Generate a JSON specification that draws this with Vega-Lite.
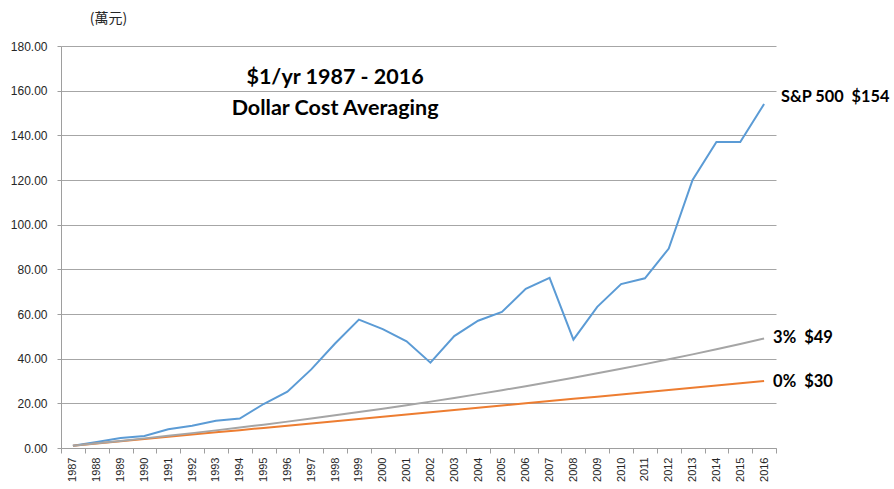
{
  "$schema": "https://vega.github.io/schema/vega-lite/v6.json",
  "width": 715,
  "height": 402,
  "autosize": {"type": "none"},
  "padding": {"left": 61, "top": 46, "right": 118, "bottom": 41},
  "background": "white",
  "config": {"view": {"stroke": null}, "font": "Liberation Sans"},
  "datasets": {
    "series": [
      {"year": "1987", "series": "S&P 500", "value": 1.0},
      {"year": "1988", "series": "S&P 500", "value": 2.7},
      {"year": "1989", "series": "S&P 500", "value": 4.5},
      {"year": "1990", "series": "S&P 500", "value": 5.4},
      {"year": "1991", "series": "S&P 500", "value": 8.4},
      {"year": "1992", "series": "S&P 500", "value": 10.0},
      {"year": "1993", "series": "S&P 500", "value": 12.2},
      {"year": "1994", "series": "S&P 500", "value": 13.2},
      {"year": "1995", "series": "S&P 500", "value": 19.7},
      {"year": "1996", "series": "S&P 500", "value": 25.2},
      {"year": "1997", "series": "S&P 500", "value": 35.2},
      {"year": "1998", "series": "S&P 500", "value": 46.8},
      {"year": "1999", "series": "S&P 500", "value": 57.5},
      {"year": "2000", "series": "S&P 500", "value": 53.2},
      {"year": "2001", "series": "S&P 500", "value": 47.8},
      {"year": "2002", "series": "S&P 500", "value": 38.2},
      {"year": "2003", "series": "S&P 500", "value": 50.1},
      {"year": "2004", "series": "S&P 500", "value": 57.0},
      {"year": "2005", "series": "S&P 500", "value": 60.9},
      {"year": "2006", "series": "S&P 500", "value": 71.3},
      {"year": "2007", "series": "S&P 500", "value": 76.2},
      {"year": "2008", "series": "S&P 500", "value": 48.5},
      {"year": "2009", "series": "S&P 500", "value": 63.2},
      {"year": "2010", "series": "S&P 500", "value": 73.4},
      {"year": "2011", "series": "S&P 500", "value": 76.0},
      {"year": "2012", "series": "S&P 500", "value": 89.3},
      {"year": "2013", "series": "S&P 500", "value": 120.0},
      {"year": "2014", "series": "S&P 500", "value": 137.0},
      {"year": "2015", "series": "S&P 500", "value": 137.0},
      {"year": "2016", "series": "S&P 500", "value": 154.0},
      {"year": "1987", "series": "0%", "value": 1},
      {"year": "1988", "series": "0%", "value": 2},
      {"year": "1989", "series": "0%", "value": 3},
      {"year": "1990", "series": "0%", "value": 4},
      {"year": "1991", "series": "0%", "value": 5},
      {"year": "1992", "series": "0%", "value": 6},
      {"year": "1993", "series": "0%", "value": 7},
      {"year": "1994", "series": "0%", "value": 8},
      {"year": "1995", "series": "0%", "value": 9},
      {"year": "1996", "series": "0%", "value": 10},
      {"year": "1997", "series": "0%", "value": 11},
      {"year": "1998", "series": "0%", "value": 12},
      {"year": "1999", "series": "0%", "value": 13},
      {"year": "2000", "series": "0%", "value": 14},
      {"year": "2001", "series": "0%", "value": 15},
      {"year": "2002", "series": "0%", "value": 16},
      {"year": "2003", "series": "0%", "value": 17},
      {"year": "2004", "series": "0%", "value": 18},
      {"year": "2005", "series": "0%", "value": 19},
      {"year": "2006", "series": "0%", "value": 20},
      {"year": "2007", "series": "0%", "value": 21},
      {"year": "2008", "series": "0%", "value": 22},
      {"year": "2009", "series": "0%", "value": 23},
      {"year": "2010", "series": "0%", "value": 24},
      {"year": "2011", "series": "0%", "value": 25},
      {"year": "2012", "series": "0%", "value": 26},
      {"year": "2013", "series": "0%", "value": 27},
      {"year": "2014", "series": "0%", "value": 28},
      {"year": "2015", "series": "0%", "value": 29},
      {"year": "2016", "series": "0%", "value": 30},
      {"year": "1987", "series": "3%", "value": 1.03},
      {"year": "1988", "series": "3%", "value": 2.09},
      {"year": "1989", "series": "3%", "value": 3.18},
      {"year": "1990", "series": "3%", "value": 4.31},
      {"year": "1991", "series": "3%", "value": 5.47},
      {"year": "1992", "series": "3%", "value": 6.66},
      {"year": "1993", "series": "3%", "value": 7.89},
      {"year": "1994", "series": "3%", "value": 9.16},
      {"year": "1995", "series": "3%", "value": 10.46},
      {"year": "1996", "series": "3%", "value": 11.81},
      {"year": "1997", "series": "3%", "value": 13.19},
      {"year": "1998", "series": "3%", "value": 14.62},
      {"year": "1999", "series": "3%", "value": 16.09},
      {"year": "2000", "series": "3%", "value": 17.60},
      {"year": "2001", "series": "3%", "value": 19.16},
      {"year": "2002", "series": "3%", "value": 20.76},
      {"year": "2003", "series": "3%", "value": 22.41},
      {"year": "2004", "series": "3%", "value": 24.12},
      {"year": "2005", "series": "3%", "value": 25.87},
      {"year": "2006", "series": "3%", "value": 27.68},
      {"year": "2007", "series": "3%", "value": 29.54},
      {"year": "2008", "series": "3%", "value": 31.45},
      {"year": "2009", "series": "3%", "value": 33.43},
      {"year": "2010", "series": "3%", "value": 35.46},
      {"year": "2011", "series": "3%", "value": 37.55},
      {"year": "2012", "series": "3%", "value": 39.71},
      {"year": "2013", "series": "3%", "value": 41.93},
      {"year": "2014", "series": "3%", "value": 44.22},
      {"year": "2015", "series": "3%", "value": 46.58},
      {"year": "2016", "series": "3%", "value": 49.00}
    ],
    "spLabel": [
      {"year": "2016", "value": 157.2, "label": "S&P 500\u00a0 $154"}
    ],
    "rateLabels": [
      {"year": "2016", "value": 49.3, "label": "3%\u00a0 $49"},
      {"year": "2016", "value": 29.6, "label": "0%\u00a0 $30"}
    ],
    "titleLines": [
      {"year": "1998", "value": 165.5, "label": "$1/yr 1987 - 2016"},
      {"year": "1998", "value": 152.0, "label": "Dollar Cost Averaging"}
    ]
  },
  "encoding": {
    "x": {
      "field": "year",
      "type": "ordinal",
      "scale": {"type": "band", "paddingInner": 0, "paddingOuter": 0},
      "axis": {
        "title": null,
        "labelAngle": -90,
        "labelAlign": "right",
        "labelBaseline": "middle",
        "labelFontSize": 11,
        "labelColor": "#262626",
        "labelPadding": 4,
        "tickBand": "extent",
        "tickSize": 5,
        "tickColor": "#9E9E9E",
        "domainColor": "#9E9E9E",
        "grid": false
      }
    },
    "y": {
      "field": "value",
      "type": "quantitative",
      "scale": {"domain": [0, 180], "nice": false, "zero": true},
      "axis": {
        "title": "(萬元)",
        "titleAngle": 0,
        "titleX": 47,
        "titleY": -28,
        "titleAlign": "center",
        "titleBaseline": "middle",
        "titleFont": "Noto Sans CJK TC",
        "titleFontWeight": "normal",
        "titleFontSize": 14,
        "titleColor": "#262626",
        "values": [0, 20, 40, 60, 80, 100, 120, 140, 160, 180],
        "format": ".2f",
        "labelFontSize": 12,
        "labelColor": "#262626",
        "labelPadding": 10,
        "tickSize": 4,
        "tickColor": "#9E9E9E",
        "domainColor": "#9E9E9E",
        "grid": true,
        "gridColor": "#A6A6A6",
        "gridWidth": 1
      }
    }
  },
  "layer": [
    {
      "data": {"name": "series"},
      "mark": {"type": "line", "strokeWidth": 2},
      "encoding": {
        "color": {
          "field": "series",
          "type": "nominal",
          "scale": {"domain": ["S&P 500", "0%", "3%"], "range": ["#5B9BD5", "#ED7D31", "#A5A5A5"]},
          "legend": null
        }
      }
    },
    {
      "data": {"name": "spLabel"},
      "mark": {"type": "text", "align": "left", "baseline": "middle", "dx": 17, "font": "Lato", "fontWeight": "bold", "fontSize": 16.3, "color": "#000000"},
      "encoding": {
        "text": {"field": "label"}
      }
    },
    {
      "data": {"name": "rateLabels"},
      "mark": {"type": "text", "align": "left", "baseline": "middle", "dx": 9, "font": "Lato", "fontWeight": "bold", "fontSize": 16.5, "color": "#000000"},
      "encoding": {
        "text": {"field": "label"}
      }
    },
    {
      "data": {"name": "titleLines"},
      "mark": {"type": "text", "align": "center", "baseline": "middle", "font": "Lato", "fontWeight": "bold", "fontSize": 21.5, "color": "#000000"},
      "encoding": {
        "text": {"field": "label"}
      }
    }
  ]
}
